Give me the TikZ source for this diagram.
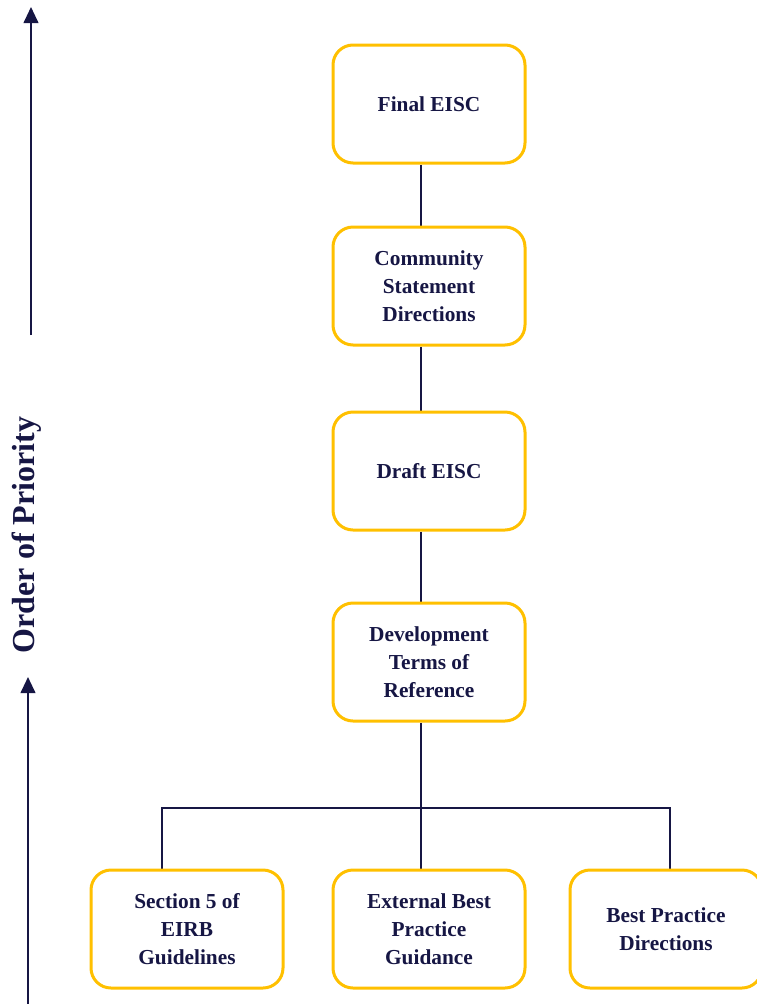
\documentclass[tikz,border=0pt]{standalone}
\usepackage{fontspec}
\setmainfont{Liberation Serif}
\usepackage{xcolor}
\usetikzlibrary{positioning,arrows.meta,backgrounds}
\definecolor{navy}{RGB}{22,22,68}
\definecolor{gold}{RGB}{255,192,0}

\begin{document}
\begin{tikzpicture}[x=0.75pt,y=-0.75pt,
    stepbox/.style={draw=gold, line width=2.25pt, rounded corners=15pt,
      minimum width=144pt, minimum height=88.5pt, align=center, text=navy,
      fill=white, font=\bfseries\fontsize{16}{21}\selectfont},
    link/.style={draw=navy, line width=1.5pt},
    prio/.style={draw=navy, line width=1.5pt, -{Triangle[width=11pt,length=12pt]}}]
    \useasboundingbox (0,0) rectangle (757,1004);
    % Caixas da cadeia principal
    \node[stepbox] (final) at (429,104) {Final EISC};
    \node[stepbox] (community) at (429,286) {Community\\Statement\\Directions};
    \node[stepbox] (draft) at (429,471) {Draft EISC};
    \node[stepbox] (dev) at (429,662) {Development\\Terms of\\Reference};
    % Caixas da base
    \node[stepbox] (sec5) at (187,929) {Section 5 of\\EIRB\\Guidelines};
    \node[stepbox] (external) at (429,929) {External Best\\Practice\\Guidance};
    \node[stepbox] (best) at (666,929) {Best Practice\\Directions};
    % Ligações (por baixo das caixas)
    \coordinate (trunk) at (421,0);
    \coordinate (busL) at (162,808);
    \coordinate (busR) at (670,808);
    \begin{scope}[on background layer]
        \draw[link] (final.south -| trunk) -- (community.north -| trunk);
        \draw[link] (community.south -| trunk) -- (draft.north -| trunk);
        \draw[link] (draft.south -| trunk) -- (dev.north -| trunk);
        \draw[link] (dev.south -| trunk) -- (external.north -| trunk);
        \draw[link] (busL |- sec5.north) -- (busL) -- (busR) -- (busR |- best.north);
    \end{scope}
    % Eixo de prioridade
    \coordinate (upS) at (31,335);
    \coordinate (upE) at (31,7);
    \coordinate (lowS) at (28,1004);
    \coordinate (lowE) at (28,677);
    \draw[prio] (upS) -- (upE);
    \draw[prio] (lowS) -- (lowE);
    \node[rotate=90, text=navy, font=\bfseries\fontsize{24}{28}\selectfont] (order) at (27,535) {Order of Priority};
\end{tikzpicture}
\end{document}
